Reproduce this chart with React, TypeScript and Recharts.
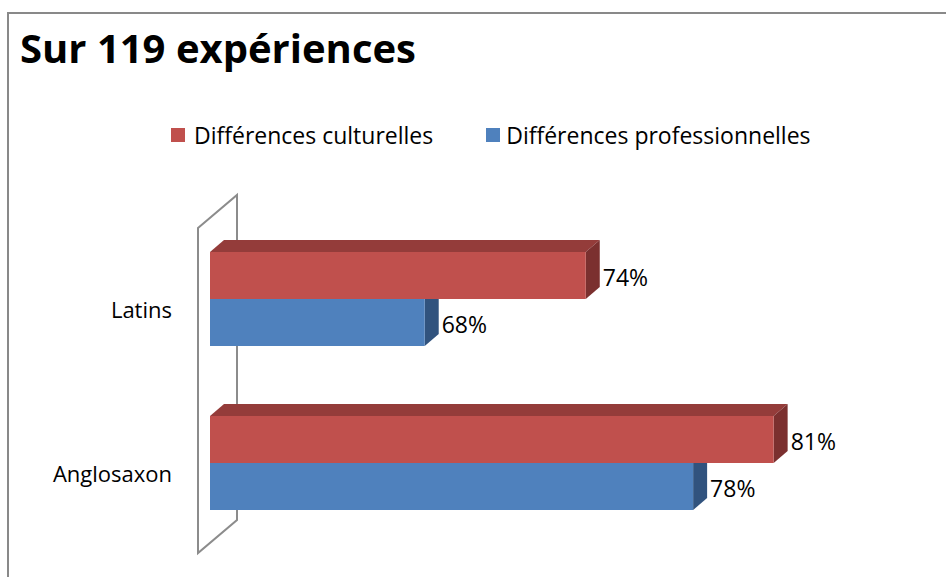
import React from 'react';
import * as R from 'recharts';
import { BarChart, Bar, XAxis, YAxis, LabelList, Customized } from 'recharts';

const categories = ['Latins', 'Anglosaxon'];
const culturelles = [74, 81];
const professionnelles = [68, 78];
const seriesNames = ['Différences culturelles', 'Différences professionnelles'];
const titleText = 'Sur 119 expériences';
const xDomain = [60, 85];

const data = categories.map((c, i) => ({
  name: c,
  culturelles: culturelles[i],
  professionnelles: professionnelles[i],
}));

const FONT = "'Open Sans', 'Noto Sans', sans-serif";
const DX = 14;
const DY = -12;

const COLORS = {
  red: { front: '#C0504D', top: '#943C3A', side: '#7B302F' },
  blue: { front: '#4F81BD', top: '#3C6496', side: '#31537E' },
};

const makeShape = (c: { front: string; top: string; side: string }, hasTop: boolean) => (props: any) => {
  const { x, y, width, height } = props;
  const x2 = x + width;
  const y2 = y + height;
  const sidePts = hasTop
    ? `${x2},${y} ${x2 + DX},${y + DY} ${x2 + DX},${y2 + DY} ${x2},${y2}`
    : `${x2},${y} ${x2 + DX},${y} ${x2 + DX},${y2 + DY} ${x2},${y2}`;
  return (
    <g>
      {hasTop && (
        <polygon
          points={`${x},${y} ${x + DX},${y + DY} ${x2 + DX},${y + DY} ${x2},${y}`}
          fill={c.top}
        />
      )}
      <polygon points={sidePts} fill={c.side} />
      <rect x={x} y={y} width={width} height={height} fill={c.front} />
    </g>
  );
};

const Wall = () => {
  const hook: any = (R as any).usePlotArea || (R as any).useOffset;
  const pa = hook ? hook() : null;
  if (!pa) return null;
  const left = pa.x ?? pa.left;
  const top = pa.y ?? pa.top;
  const bottom = top + pa.height;
  const pts = `${left - 12},${top + 11} ${left + 27},${top - 22} ${left + 27},${bottom - 25} ${left - 12},${bottom + 8}`;
  return <polygon points={pts} fill="none" stroke="#8C8C8C" strokeWidth={2} />;
};

const ValueLabel = (props: any) => {
  const { x, y, width, height, value } = props;
  return (
    <text
      x={x + width + 17}
      y={y + height / 2 + 2.5}
      dy="0.36em"
      fontFamily={FONT}
      fontSize={23}
      fill="#000"
    >
      {`${value}%`}
    </text>
  );
};

const CatTick = (props: any) => {
  const { x, y, payload } = props;
  return (
    <text x={x - 30} y={y + 11} dy="0.36em" textAnchor="end" fontFamily={FONT} fontSize={22} fill="#000">
      {payload.value}
    </text>
  );
};

const LegendBlock = () => (
  <div
    style={{
      position: 'absolute',
      left: 0,
      top: 121,
      display: 'flex',
      alignItems: 'center',
      paddingLeft: 171,
      fontFamily: FONT,
      fontSize: 23,
      color: '#000',
      whiteSpace: 'nowrap',
    }}
  >
    <span style={{ width: 14, height: 14, background: COLORS.red.front, display: 'inline-block', marginRight: 9 }} />
    <span style={{ marginRight: 53, lineHeight: '28px' }}>{seriesNames[0]}</span>
    <span style={{ width: 14, height: 14, background: COLORS.blue.front, display: 'inline-block', marginRight: 6 }} />
    <span style={{ lineHeight: '28px' }}>{seriesNames[1]}</span>
  </div>
);

export default function App() {
  return (
    <div style={{ position: 'absolute', left: 0, top: 0, width: 946, height: 577, overflow: 'hidden', background: '#fff' }}>
      <div
        style={{
          position: 'absolute',
          left: 7,
          top: 12,
          width: 960,
          height: 600,
          borderLeft: '2px solid #898989',
          borderTop: '2px solid #898989',
        }}
      />
      <div
        style={{
          position: 'absolute',
          left: 20,
          top: 20,
          fontFamily: FONT,
          fontWeight: 700,
          fontSize: 40,
          lineHeight: '56px',
          color: '#000',
          whiteSpace: 'nowrap',
        }}
      >
        {titleText}
      </div>
      <LegendBlock />
      <div style={{ position: 'absolute', left: 0, top: 0 }}>
        <BarChart
          width={946}
          height={577}
          data={data}
          layout="vertical"
          margin={{ top: 217, right: 65, bottom: 32, left: 10 }}
          barSize={47}
          barGap={0}
        >
          <Customized component={Wall} />
          <XAxis type="number" domain={xDomain} hide allowDataOverflow />
          <YAxis
            type="category"
            dataKey="name"
            width={200}
            axisLine={false}
            tickLine={false}
            tick={<CatTick />}
          />
          <Bar
            dataKey="culturelles"
            name={seriesNames[0]}
            fill={COLORS.red.front}
            shape={makeShape(COLORS.red, true)}
            isAnimationActive={false}
          >
            <LabelList dataKey="culturelles" content={<ValueLabel />} />
          </Bar>
          <Bar
            dataKey="professionnelles"
            name={seriesNames[1]}
            fill={COLORS.blue.front}
            shape={makeShape(COLORS.blue, false)}
            isAnimationActive={false}
          >
            <LabelList dataKey="professionnelles" content={<ValueLabel />} />
          </Bar>
        </BarChart>
      </div>
    </div>
  );
}
